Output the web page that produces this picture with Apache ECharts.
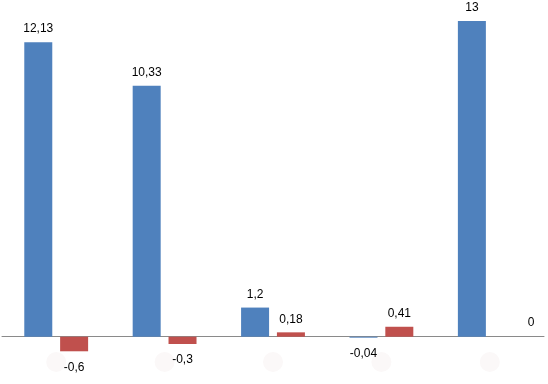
<!DOCTYPE html>
<html><head><meta charset="utf-8">
<script src="https://cdn.jsdelivr.net/npm/echarts@6/dist/echarts.min.js"></script>
<style>html,body{margin:0;padding:0;background:#fff}#c{width:548px;height:384px}</style>
</head><body><div id="c"></div>
<script>
const categories = ['1', '2', '3', '4', '5'];
const seriesA = [12.13, 10.33, 1.2, -0.04, 13];
const seriesB = [-0.6, -0.3, 0.18, 0.41, 0];

const fmt = v => String(v).replace('.', ',');
function items(vals) {
  return vals.map(v => {
    if (v < 0) return { value: v, label: { position: 'bottom', distance: 10 } };
    if (v === 0) return { value: v, label: { position: 'right', distance: 6, offset: [0, -14] } };
    return { value: v };
  });
}
const labelBase = {
  show: true, position: 'top', distance: 7, color: '#000',
  fontFamily: 'Liberation Sans, Arial, sans-serif', fontSize: 12,
  formatter: p => fmt(p.value)
};
const chart = echarts.init(document.getElementById('c'), null, { renderer: 'canvas' });
chart.setOption({
  animation: false,
  backgroundColor: '#fff',
  grid: { left: 2, right: 4, top: 21, bottom: 23, containLabel: false, outerBoundsMode: 'none' },
  xAxis: {
    type: 'category', data: categories,
    axisLine: { onZero: true, lineStyle: { color: '#8a8a8a', width: 1 } },
    axisTick: { show: false },
    axisLabel: {
      margin: -9, verticalAlign: 'top', lineHeight: 20,
      formatter: () => '{c| }',
      rich: { c: { width: 20, height: 20, lineHeight: 20, borderRadius: 10, backgroundColor: '#fbf8f8' } }
    }
  },
  yAxis: { type: 'value', min: -1, max: 13, show: false, splitLine: { show: false } },
  series: [
    { type: 'bar', data: items(seriesA), barWidth: 28, barGap: '28%',
      itemStyle: { color: '#4F81BD' }, label: labelBase },
    { type: 'bar', data: items(seriesB), barWidth: 28,
      itemStyle: { color: '#C0504D' }, label: labelBase }
  ]
});
</script></body></html>
